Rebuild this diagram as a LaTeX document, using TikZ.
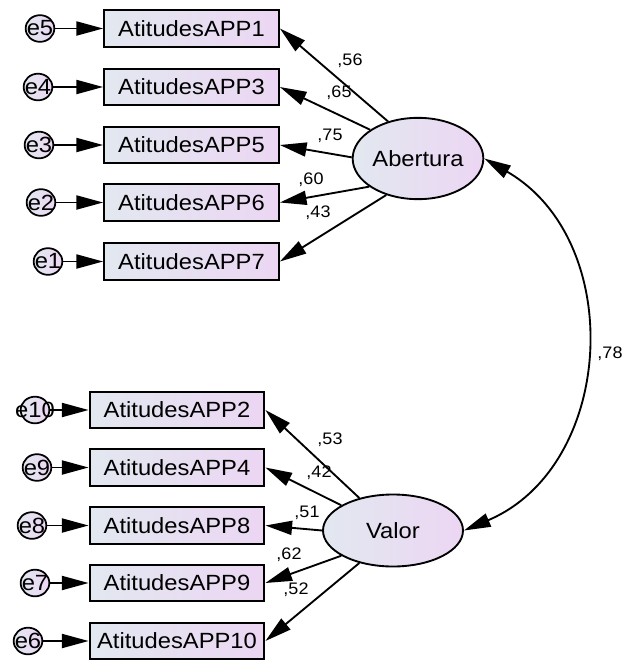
\documentclass[tikz,border=0pt]{standalone}
\usepackage{fontspec}
\setmainfont{Liberation Sans}
\newfontfamily\wfont[FakeStretch=1.08]{Liberation Sans}
\usetikzlibrary{arrows.meta,shapes.geometric}
\definecolor{gA}{RGB}{226,232,240}
\definecolor{gB}{RGB}{236,214,243}
\begin{document}
\begin{tikzpicture}[x=0.75pt,y=0.75pt,
  obs/.style={draw=black,line width=1.6pt,left color=gA,right color=gB,minimum width=131pt,minimum height=27.5pt,inner sep=0pt,font=\wfont\fontsize{16.5}{18}\selectfont},
  lat/.style={ellipse,draw=black,line width=1.4pt,left color=gA,right color=gB,inner sep=0pt,font=\wfont\fontsize{16.5}{18}\selectfont},
  err/.style={ellipse,draw=black,line width=1.3pt,left color=gA,right color=gB,minimum width=21.5pt,minimum height=20pt,inner sep=0pt,font=\wfont\fontsize{16.5}{18}\selectfont},
  reg/.style={line width=1.4pt,-{Triangle[length=20pt,width=10.5pt]}},
  wt/.style={font=\wfont\fontsize{12.5}{14}\selectfont,inner sep=0pt}]
\useasboundingbox (0,0) rectangle (622,-661);
% observed variables
\node[obs] (b1) at (191.5,-28.5) {AtitudesAPP1};
\node[obs] (b3) at (191.5,-87) {AtitudesAPP3};
\node[obs] (b5) at (191.5,-145) {AtitudesAPP5};
\node[obs] (b6) at (191.5,-202.5) {AtitudesAPP6};
\node[obs] (b7) at (191.5,-261.5) {AtitudesAPP7};
\node[obs] (b2) at (177,-410) {AtitudesAPP2};
\node[obs] (b4) at (177,-467.5) {AtitudesAPP4};
\node[obs] (b8) at (177,-525.5) {AtitudesAPP8};
\node[obs] (b9) at (177,-583) {AtitudesAPP9};
\node[obs] (b10) at (177,-641) {AtitudesAPP10};
% errors
\node[err] (e5) at (40,-28.5) {\makebox[0pt]{e5}};
\node[err] (e4) at (38,-87) {\makebox[0pt]{e4}};
\node[err] (e3) at (39,-145) {\makebox[0pt]{e3}};
\node[err] (e2) at (41,-202.5) {\makebox[0pt]{e2}};
\node[err] (e1) at (48,-261.5) {\makebox[0pt]{e1}};
\node[err] (e10) at (35,-410) {\makebox[0pt]{e10}};
\node[err] (e9) at (37,-467.5) {\makebox[0pt]{e9}};
\node[err] (e8) at (32,-525.5) {\makebox[0pt]{e8}};
\node[err] (e7) at (35,-583) {\makebox[0pt]{e7}};
\node[err] (e6) at (28,-641) {\makebox[0pt]{e6}};
% latent
\node[lat,minimum width=98pt,minimum height=61pt] (ab) at (418,-158.5) {Abertura};
\node[lat,minimum width=105pt,minimum height=54pt] (va) at (393,-530.5) {Valor};
% error arrows
\draw[reg] (e5) -- (b1);
\draw[reg] (e4) -- (b3);
\draw[reg] (e3) -- (b5);
\draw[reg] (e2) -- (b6);
\draw[reg] (e1) -- (b7);
\draw[reg] (e10) -- (b2);
\draw[reg] (e9) -- (b4);
\draw[reg] (e8) -- (b8);
\draw[reg] (e7) -- (b9);
\draw[reg] (e6) -- (b10);
% loadings
\draw[reg] (ab.129) -- (b1.east);
\draw[reg] (ab.149) -- (b3.east);
\draw[reg] (ab.179) -- (b5.east);
\draw[reg] (ab.210) -- (b6.east);
\draw[reg] (ab.229) -- (b7.east);
\draw[reg] (va.136) -- (b2.east);
\draw[reg] (va.154) -- (b4.east);
\draw[reg] (va.180) -- (b8.east);
\draw[reg] (va.206) -- (b9.east);
\draw[reg] (va.224) -- (b10.east);
% covariance
\draw[line width=1.4pt,{Triangle[length=20pt,width=10.5pt]}-{Triangle[length=20pt,width=10.5pt]}] (ab.east) to[out=-30,in=23,looseness=1.13] (va.east);
% weights
\node[wt] (w1) at (350,-61) {,56};
\node[wt] (w3) at (339,-93) {,65};
\node[wt] (w5) at (330,-136) {,75};
\node[wt] (w6) at (311,-180) {,60};
\node[wt] (w7) at (318,-213) {,43};
\node[wt] (w2) at (330,-440) {,53};
\node[wt] (w4) at (319,-473) {,42};
\node[wt] (w8) at (307,-513) {,51};
\node[wt] (w9) at (289,-555) {,62};
\node[wt] (w10) at (296,-590) {,52};
\node[wt] (wc) at (610,-354) {,78};
\end{tikzpicture}
\end{document}
